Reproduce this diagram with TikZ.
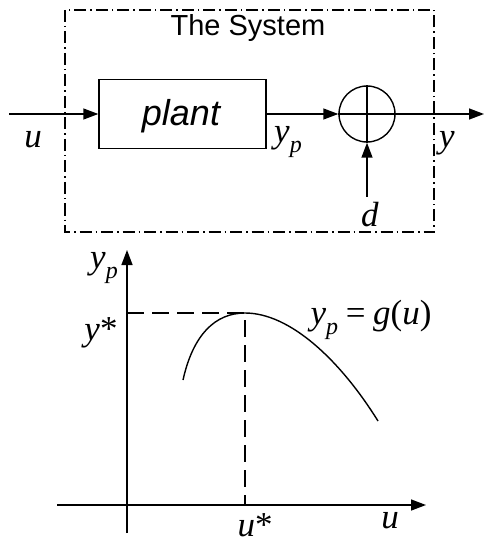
\documentclass[tikz,border=0pt]{standalone}
\usepackage{fontspec}
\setmainfont{Liberation Serif}
\newfontfamily\arialf{Liberation Sans}
\usetikzlibrary{arrows.meta}
\newcommand{\mv}[1]{\textit{#1}}
\newcommand{\ysub}{\mv{y}\raisebox{-0.28em}{\fontsize{24}{24}\selectfont\mv{p}}}
\begin{document}
\begin{tikzpicture}[x=1pt,y=-1pt,
  ln/.style={line width=1.4pt},
  arr/.style={ln,-{Triangle[length=15pt,width=11pt]}},
  lbl/.style={inner sep=0pt,font=\fontsize{35}{35}\selectfont},
  dsh/.style={ln,dash pattern=on 17pt off 8pt}]
\useasboundingbox (0,0) rectangle (486,545);
% system box
\draw[ln,dash pattern=on 12pt off 4pt on 1.5pt off 4pt] (65,10) rectangle (434,232);
\node[inner sep=0pt,font=\arialf\fontsize{29}{29}\selectfont] (title) at (248,28) {The System};
\node[ln,draw,minimum width=167pt,minimum height=69pt,inner sep=0pt] (plant) at (182.5,114) {};
\node[inner sep=0pt,font=\arialf\itshape\fontsize{36}{36}\selectfont] (plantlbl) at (181,116) {plant};
\node[ln,draw,circle,minimum size=56pt,inner sep=0pt] (sum) at (367,114) {};
\draw[ln] (sum.north) -- (sum.south);
\draw[ln] (sum.west) -- (sum.east);
\coordinate (uin) at (9,114);
\coordinate (yout) at (484,114);
\coordinate (din) at (367,197);
\draw[arr] (uin) -- (plant.west);
\draw[arr] (plant.east) -- (sum.west);
\draw[arr] (sum.east) -- (yout);
\draw[arr] (din) -- (sum.south);
\node[lbl] (u1) at (33,140) {\mv{u}};
\node[lbl] (yp1) at (288,142) {\ysub};
\node[lbl] (y1) at (447,143) {\mv{y}};
\node[lbl] (d1) at (370,215) {\mv{d}};
% graph
\coordinate (xs) at (57,505);
\coordinate (xe) at (426,505);
\coordinate (ys) at (127,533);
\coordinate (ye) at (127,250);
\draw[arr] (xs) -- (xe);
\draw[arr] (ys) -- (ye);
\coordinate (peak) at (245,313);
\coordinate (ystar) at (127,313);
\coordinate (ustar) at (245,505);
\draw[dsh] (ystar) -- (peak) -- (ustar);
\draw[ln] (183,380) .. controls (193,335) and (215,313) .. (peak)
  .. controls (290,313) and (340,360) .. (378,421);
\node[lbl] (yp2) at (104,268) {\ysub};
\node[lbl] (ys2) at (101,333) {\mv{y}*};
\node[lbl] (gl) at (371,320) {\ysub\hspace{0.22em}=\hspace{0.22em}\mv{g}(\mv{u})};
\node[lbl] (us2) at (255,525) {\mv{u}*};
\node[lbl] (u2) at (390,521) {\mv{u}};
\end{tikzpicture}
\end{document}
